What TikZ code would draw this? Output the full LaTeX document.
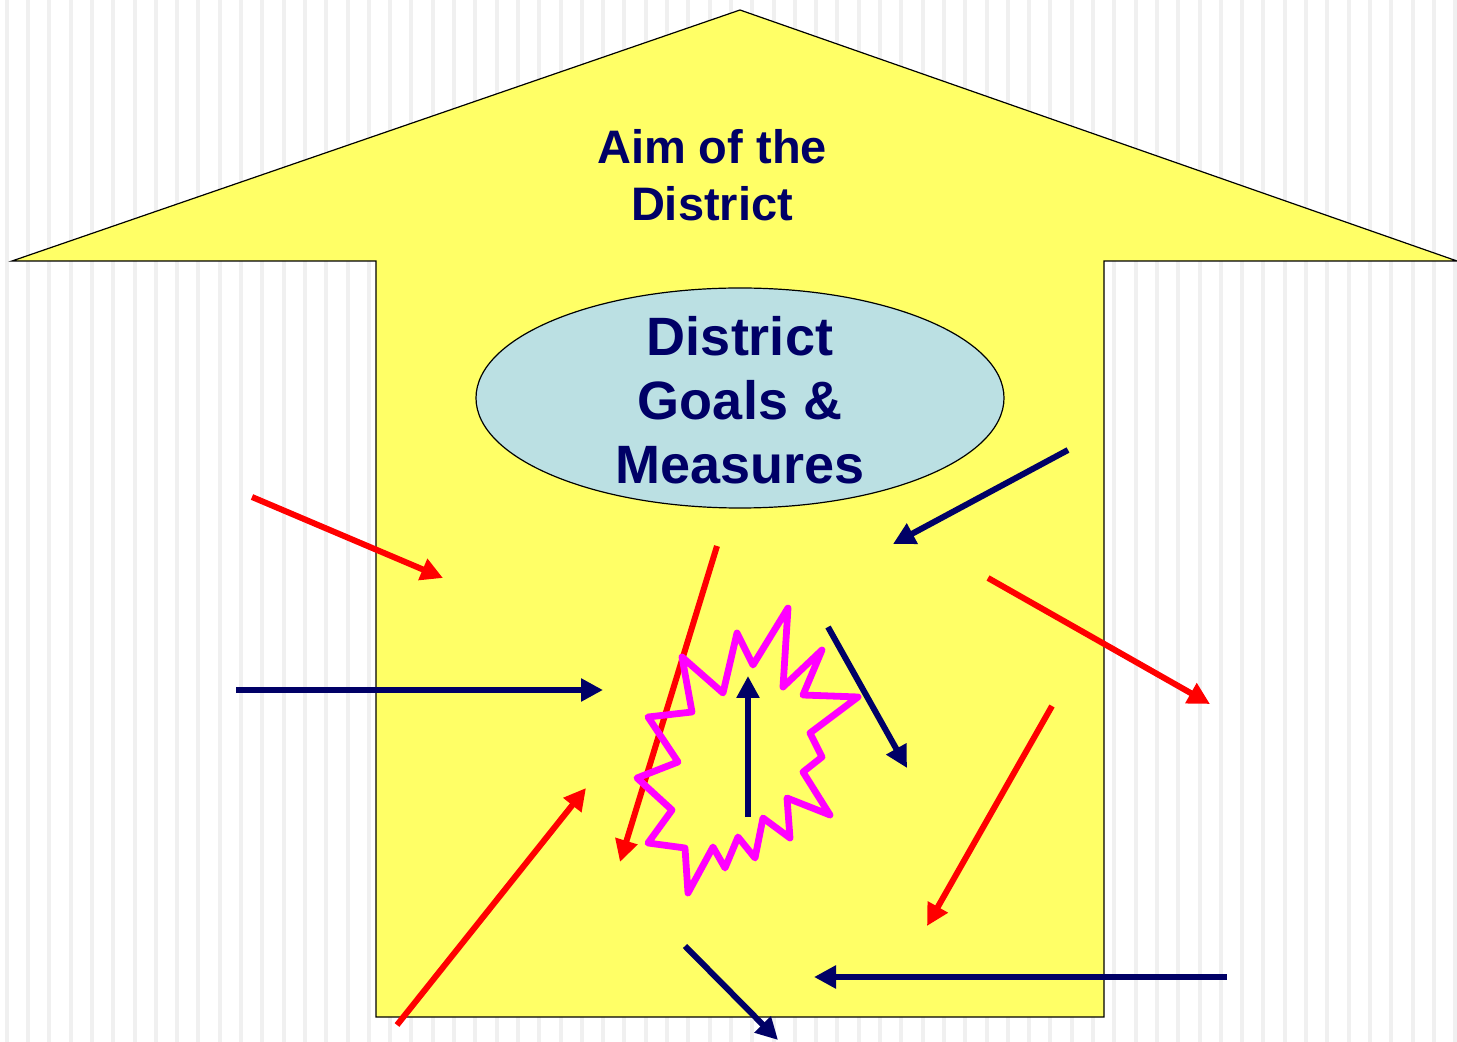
\documentclass[tikz,border=0pt]{standalone}
\usepackage{fontspec}
\setmainfont{Liberation Sans}
\usetikzlibrary{arrows.meta,shapes.geometric}
\definecolor{houseyellow}{HTML}{FFFF66}
\definecolor{navy}{HTML}{000066}
\definecolor{ellfill}{HTML}{BBE0E3}
\definecolor{stripe}{HTML}{F0F0F0}
\definecolor{starmag}{HTML}{FF00FF}
\begin{document}
\begin{tikzpicture}[x=0.5pt,y=-0.5pt,
  redarrow/.style={draw=red,line width=3pt,-{Triangle[length=11pt,width=11pt]}},
  navyarrow/.style={draw=navy,line width=3pt,-{Triangle[length=11pt,width=11pt]}},
  title/.style={font=\bfseries\fontsize{23.5pt}{28.5pt}\selectfont,text=navy,align=center},
  goal/.style={font=\bfseries\fontsize{27pt}{32pt}\selectfont,text=navy,align=center}]
\useasboundingbox (0,0) rectangle (1457,1042);
\fill[white] (0,0) rectangle (1457,1042);
\foreach \i in {0,...,68}{
  \draw[stripe,line width=2pt] ({6.7+21.3*\i},0) -- ({6.7+21.3*\i},1042);
}
% house
\draw[fill=houseyellow,line width=0.6pt] (740,10) -- (1457,261) -- (1104,261) -- (1104,1017)
  -- (376,1017) -- (376,261) -- (12,261) -- cycle;
\node[title] (aim) at (712,175) {Aim of the\\District};
\node[draw=black,line width=0.6pt,fill=ellfill,ellipse,
  inner sep=0pt,minimum width=264pt,minimum height=110pt] (ell) at (740,398) {};
\node[goal] (goals) at (740,400) {District\\Goals \&\\Measures};
% coordinates
\coordinate (r1s) at (252,497); \coordinate (r1e) at (443,578);
\coordinate (r2s) at (717,546); \coordinate (r2e) at (620,862);
\coordinate (r3s) at (988,578); \coordinate (r3e) at (1210,704);
\coordinate (r4s) at (1052,706); \coordinate (r4e) at (927,926);
\coordinate (r5s) at (397,1025); \coordinate (r5e) at (586,788);
\coordinate (n1s) at (1068,450); \coordinate (n1e) at (893,544);
\coordinate (n2s) at (236,690); \coordinate (n2e) at (603,690);
\coordinate (n3s) at (748,817); \coordinate (n3e) at (748,676);
\coordinate (n4s) at (828,627); \coordinate (n4e) at (907,768);
\coordinate (n5s) at (1227,977); \coordinate (n5e) at (814,977);
\coordinate (n6s) at (685,946); \coordinate (n6e) at (778,1040);
\draw[redarrow] (r1s) -- (r1e);
\draw[redarrow] (r2s) -- (r2e);
\draw[redarrow] (r3s) -- (r3e);
\draw[redarrow] (r4s) -- (r4e);
\draw[redarrow] (r5s) -- (r5e);
\draw[navyarrow] (n1s) -- (n1e);
\draw[navyarrow] (n2s) -- (n2e);
\draw[navyarrow] (n4s) -- (n4e);
\draw[navyarrow] (n5s) -- (n5e);
\draw[navyarrow] (n6s) -- (n6e);
% starburst
\draw[starmag,line width=3.4pt,line join=round] (788,608) -- (783,687) -- (822,650) -- (803,695) -- (858,697)
  -- (810,733) -- (822,757) -- (803,772) -- (830,815) -- (787,798) -- (790,838)
  -- (763,818) -- (755,858) -- (738,837) -- (725,868) -- (713,847) -- (688,893)
  -- (685,848) -- (648,843) -- (672,810) -- (637,778) -- (678,762) -- (648,717)
  -- (692,712) -- (682,657) -- (723,693) -- (737,633) -- (753,665) -- cycle;
\draw[navyarrow] (n3s) -- (n3e);
\end{tikzpicture}
\end{document}
